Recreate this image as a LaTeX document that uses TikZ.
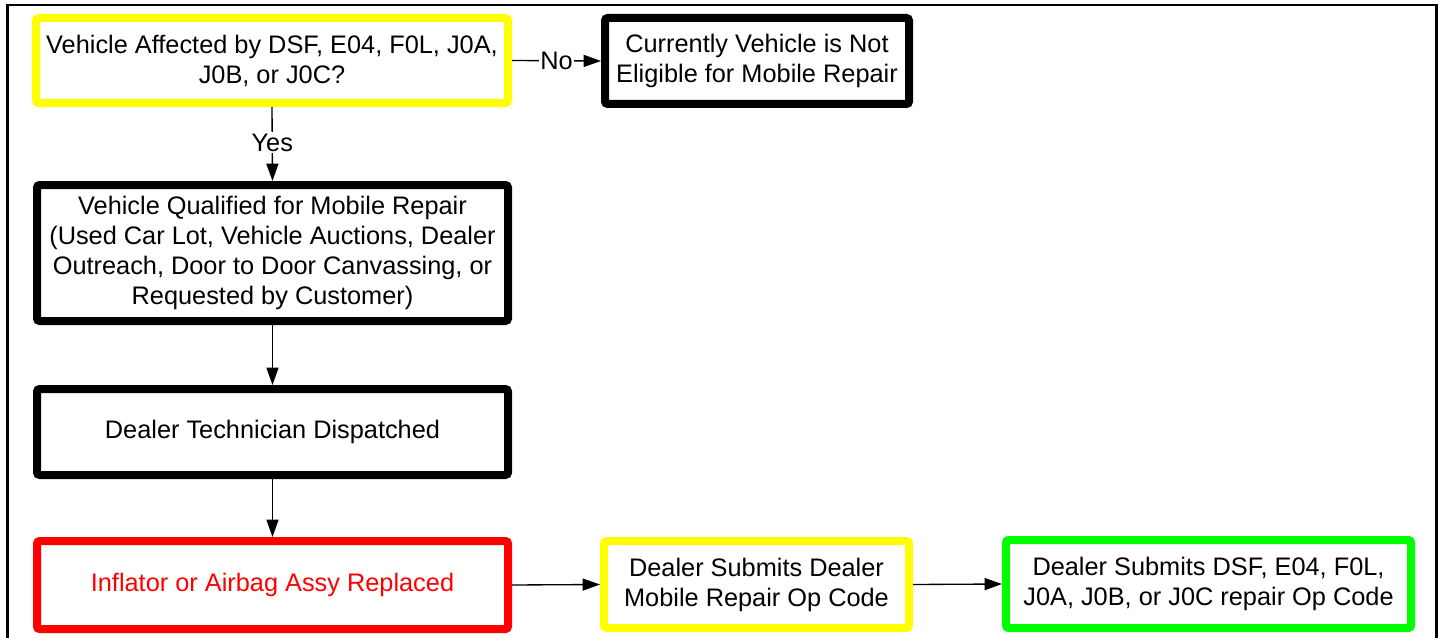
\documentclass[tikz,border=0pt]{standalone}
\usepackage{fontspec}
\setmainfont{Liberation Sans}
\usetikzlibrary{arrows.meta}
\definecolor{ylw}{RGB}{255,255,0}
\definecolor{grn}{RGB}{0,255,0}
\definecolor{rd}{RGB}{255,0,0}
\begin{document}
\begin{tikzpicture}[x=0.75pt,y=-0.75pt,
  box/.style={draw, line width=6pt, rounded corners=2pt, inner sep=0pt, align=center,
    font=\fontsize{19pt}{22.5pt}\selectfont, fill=white},
  sz/.style 2 args={minimum width={#1*0.75pt}, minimum height={#2*0.75pt}},
  conn/.style={line width=1pt, -{Triangle[length=13pt,width=9pt]}},
  lbl/.style={fill=white, inner sep=1pt, font=\fontsize{19pt}{22.5pt}\selectfont}]
\useasboundingbox (0,0) rectangle (1441,638);
\draw[line width=2pt] (7.5,638) -- (7.5,5) -- (1436.5,5) -- (1436.5,638);
\node[box, draw=ylw, sz={472}{85}] (q) at (272,60.5)
  {Vehicle Affected by DSF, E04, F0L, J0A,\\J0B, or J0C?};
\node[box, sz={304}{86}] (ne) at (757,61)
  {Currently Vehicle is Not\\Eligible for Mobile Repair};
\node[box, sz={471}{136}] (qual) at (272.5,253)
  {Vehicle Qualified for Mobile Repair\\(Used Car Lot, Vehicle Auctions, Dealer\\Outreach, Door to Door Canvassing, or\\Requested by Customer)};
\node[box, sz={471}{86}] (disp) at (272.5,432)
  {Dealer Technician Dispatched};
\node[box, draw=rd, text=rd, sz={471}{88}] (repl) at (272.5,585)
  {Inflator or Airbag Assy Replaced};
\node[box, draw=ylw, sz={305}{87}] (sub1) at (756.5,584.5)
  {Dealer Submits Dealer\\Mobile Repair Op Code};
\node[box, draw=grn, sz={405}{88}] (sub2) at (1208.5,584)
  {Dealer Submits DSF, E04, F0L,\\J0A, J0B, or J0C repair Op Code};
\draw[conn] (q.east) -- node[lbl] {No} (ne.west);
\draw[conn] (q.south) -- node[lbl, pos=0.48] {Yes} (qual.north);
\draw[conn] (qual.south) -- (disp.north);
\draw[conn] (disp.south) -- (repl.north);
\draw[conn] (repl.east) -- (sub1.west);
\draw[conn] (sub1.east) -- (sub2.west);
\end{tikzpicture}
\end{document}
